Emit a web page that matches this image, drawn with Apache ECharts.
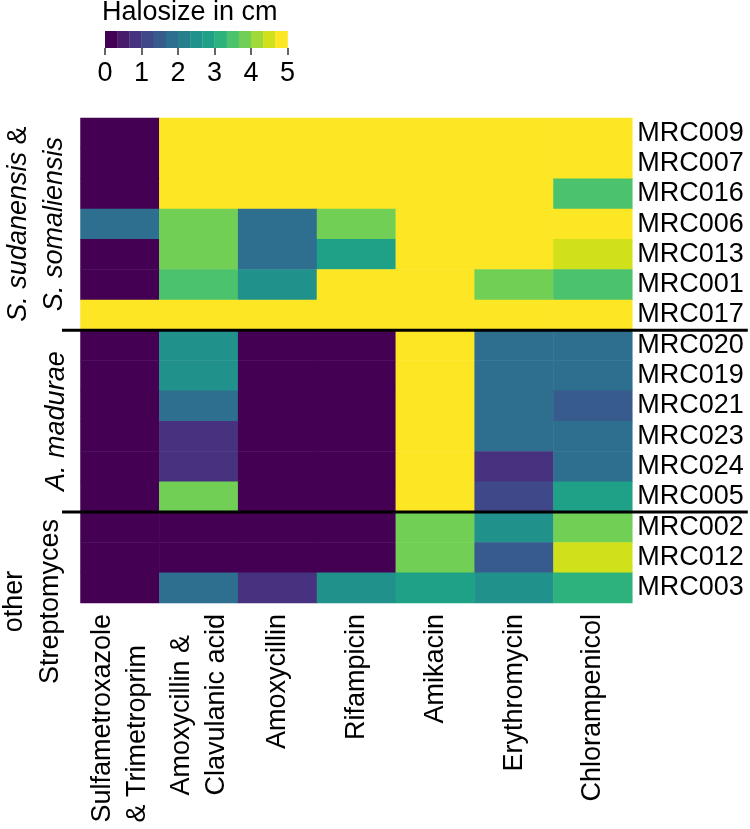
<!DOCTYPE html>
<html><head><meta charset="utf-8">
<script src="https://cdn.jsdelivr.net/npm/echarts@6/dist/echarts.min.js"></script>
<style>html,body{margin:0;padding:0;background:#fff}#c{width:750px;height:829px}</style>
</head><body><div id="c"></div>
<script>
// ---------------- data ----------------
const drugs = ['Sulfametroxazole\n& Trimetroprim', 'Amoxycillin &\nClavulanic acid', 'Amoxycillin',
  'Rifampicin', 'Amikacin', 'Erythromycin', 'Chlorampenicol'];
const strains = ['MRC009', 'MRC007', 'MRC016', 'MRC006', 'MRC013', 'MRC001', 'MRC017',
  'MRC020', 'MRC019', 'MRC021', 'MRC023', 'MRC024', 'MRC005',
  'MRC002', 'MRC012', 'MRC003'];
// halo size in cm, one array per strain, in the order of drugs
const MRC009 = [0, 5, 5, 5, 5, 5, 5];
const MRC007 = [0, 5, 5, 5, 5, 5, 5];
const MRC016 = [0, 5, 5, 5, 5, 5, 3.5];
const MRC006 = [1.8, 3.8, 1.8, 3.8, 5, 5, 5];
const MRC013 = [0, 3.8, 1.8, 2.8, 5, 5, 4.5];
const MRC001 = [0, 3.5, 2.5, 5, 5, 3.8, 3.5];
const MRC017 = [5, 5, 5, 5, 5, 5, 5];
const MRC020 = [0, 2.5, 0, 0, 5, 1.8, 1.8];
const MRC019 = [0, 2.5, 0, 0, 5, 1.8, 1.8];
const MRC021 = [0, 1.8, 0, 0, 5, 1.8, 1.5];
const MRC023 = [0, 0.8, 0, 0, 5, 1.8, 1.8];
const MRC024 = [0, 0.8, 0, 0, 5, 0.8, 1.8];
const MRC005 = [0, 3.8, 0, 0, 5, 1.2, 2.8];
const MRC002 = [0, 0, 0, 0, 3.8, 2.5, 3.8];
const MRC012 = [0, 0, 0, 0, 3.8, 1.5, 4.5];
const MRC003 = [0, 1.8, 0.8, 2.5, 2.8, 2.5, 3.2];
const rows = {MRC009, MRC007, MRC016, MRC006, MRC013, MRC001, MRC017, MRC020, MRC019,
  MRC021, MRC023, MRC024, MRC005, MRC002, MRC012, MRC003};

// strain groups (first and last strain of each)
const groupFirst = ['MRC009', 'MRC020', 'MRC002'];
const groupLast = ['MRC017', 'MRC005', 'MRC003'];
const groupLabels = ['{i|S. sudanensis} &\n{i|S. somaliensis}', '{i|A. madurae}', 'other\nStreptomyces'];

// colour scale: 15 bins between 0 and 5 cm
const legendBreaks = [0, 1/3, 2/3, 1, 4/3, 5/3, 2, 7/3, 8/3, 3, 10/3, 11/3, 4, 13/3, 14/3, 5];
const legendTicks = [0, 1, 2, 3, 4, 5];

// ---------------- styles ----------------
const FONT = '"Liberation Sans", Arial, Helvetica, sans-serif';
const viridis15 = ['#440154', '#481B6D', '#46327E', '#3F4889', '#375B8D', '#2E6E8E', '#277F8E', '#21918C',
  '#1FA188', '#2DB27D', '#4BC26C', '#72CF56', '#A0DA39', '#D0E11C', '#FDE725'];
const groupLabelX = [36.5, 56, 33];
const groupLabelDy = [0, 0, 44];

const heatData = [];
strains.forEach((s, yi) => rows[s].forEach((v, xi) => heatData.push([xi, yi, v])));

const pieces = viridis15.map((c, k) => {
  const p = {gte: legendBreaks[k], color: c};
  if (k === viridis15.length - 1) p.lte = legendBreaks[k + 1]; else p.lt = legendBreaks[k + 1];
  return p;
});

const chart = echarts.init(document.getElementById('c'), null, {renderer: 'canvas'});
chart.setOption({
  animation: false,
  backgroundColor: '#fff',
  title: {
    text: 'Halosize in cm', left: 102, top: -1, padding: 0,
    textStyle: {fontSize: 27, fontWeight: 'normal', color: '#000', fontFamily: FONT}
  },
  grid: [
    {left: 80.5, top: 118, width: 551.8, height: 485},
    {left: 105, top: 31, width: 182.5, height: 17}
  ],
  xAxis: [
    {
      type: 'category', data: drugs, gridIndex: 0, position: 'bottom',
      axisLine: {show: false}, axisTick: {show: false}, splitLine: {show: false},
      axisLabel: {
        rotate: 90, margin: 11, interval: 0, color: '#000', fontSize: 27, fontFamily: FONT,
        formatter: v => v.split('\n').map(s => '{a|' + s + '}').join('\n'),
        rich: {a: {align: 'left', fontSize: 27, lineHeight: 35, color: '#000', fontFamily: FONT}}
      }
    },
    {
      type: 'value', gridIndex: 1, min: legendTicks[0], max: legendTicks[legendTicks.length - 1], interval: 1,
      axisLine: {show: false}, splitLine: {show: false},
      axisTick: {show: true, length: 7, lineStyle: {color: '#333', width: 1.5}},
      axisLabel: {margin: 12, fontSize: 27, color: '#000', fontFamily: FONT}
    }
  ],
  yAxis: [
    {
      type: 'category', data: strains, inverse: true, position: 'right', gridIndex: 0,
      axisLine: {show: false}, axisTick: {show: false}, splitLine: {show: false},
      axisLabel: {margin: 5, interval: 0, fontSize: 27, color: '#000', fontFamily: FONT}
    },
    {type: 'value', gridIndex: 1, min: 0, max: 1, show: false}
  ],
  visualMap: {type: 'piecewise', show: false, seriesIndex: 0, dimension: 2, pieces: pieces},
  series: [
    {
      type: 'heatmap', xAxisIndex: 0, yAxisIndex: 0, data: heatData,
      itemStyle: {borderWidth: 0}, emphasis: {disabled: true}, progressive: 0, silent: true
    },
    {
      type: 'custom', xAxisIndex: 0, yAxisIndex: 0, clip: false, silent: true, z: 10,
      data: groupLabels.map((g, i) => [0, strains.indexOf(groupFirst[i]), i]),
      renderItem: function (params, api) {
        const g = api.value(2);
        const fi = strains.indexOf(groupFirst[g]);
        const li = strains.indexOf(groupLast[g]);
        const sz = api.size([1, 1]);
        const colW = sz[0], rowH = sz[1];
        const ya = api.coord([0, fi])[1], yb = api.coord([0, li])[1];
        const top = Math.min(ya, yb) - rowH / 2, bot = Math.max(ya, yb) + rowH / 2;
        const left = api.coord([0, 0])[0] - colW / 2;
        const right = api.coord([drugs.length - 1, 0])[0] + colW / 2;
        const children = [{
          type: 'text', x: groupLabelX[g], y: (top + bot) / 2 + groupLabelDy[g], rotation: Math.PI / 2,
          style: {
            text: groupLabels[g], fill: '#000', fontSize: 27, fontFamily: FONT,
            align: 'center', verticalAlign: 'middle', lineHeight: 36,
            rich: {i: {fontStyle: 'italic', fontSize: 27, fontFamily: FONT, lineHeight: 36, fill: '#000'}}
          }
        }];
        if (g < groupLabels.length - 1) {
          children.push({
            type: 'line', shape: {x1: left - 18.5, y1: bot, x2: right + 115.5, y2: bot},
            style: {stroke: '#000', lineWidth: 3}
          });
        }
        return {type: 'group', children: children};
      }
    },
    {
      type: 'custom', xAxisIndex: 1, yAxisIndex: 1, silent: true,
      data: viridis15.map((c, k) => [legendBreaks[k], legendBreaks[k + 1], k]),
      renderItem: function (params, api) {
        const p0 = api.coord([api.value(0), 1]);
        const p1 = api.coord([api.value(1), 0]);
        return {
          type: 'rect',
          shape: {x: p0[0], y: p0[1], width: p1[0] - p0[0] + 0.3, height: p1[1] - p0[1]},
          style: {fill: viridis15[api.value(2)]}
        };
      }
    }
  ]
});
</script></body></html>
